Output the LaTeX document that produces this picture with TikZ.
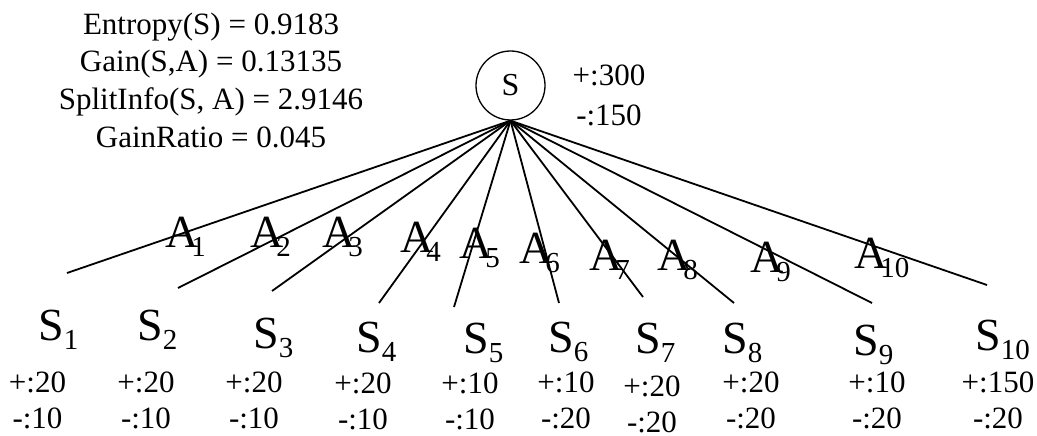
\documentclass[tikz,border=0pt]{standalone}
\usepackage{fontspec}
\setmainfont{Liberation Serif}
\usetikzlibrary{positioning}
% letter with lowered index, #3 = kern before the index
\newcommand{\subl}[3]{#1\kern#3pt\raisebox{-9pt}{\fontsize{29}{29}\selectfont #2}}
\tikzset{
  txt/.style={inner sep=0pt,font=\fontsize{31}{36}\selectfont},
  root/.style={circle,draw,line width=1.3pt,minimum size=69pt,inner sep=0pt,font=\fontsize{32}{36}\selectfont},
  br/.style={-,line width=1.8pt},
  big/.style={anchor=base west,inner sep=0pt,font=\fontsize{46}{46}\selectfont},
  cnt/.style={txt,anchor=base}
}
\begin{document}
\begin{tikzpicture}[x=1pt,y=-1pt]
  \useasboundingbox (0,0) rectangle (1037,436);
  \node[root] (S) at (510.5,85.5) {S};
  \node[cnt] (pos) at (609,85) {+:300};
  \node[cnt,below=40pt of pos.base,anchor=base] (neg) {-:150};
  % measures of the split
  \node[cnt] (ent) at (211,35) {Entropy(S) = 0.9183};
  \node[cnt] (gain) at (211,72) {Gain(S,A) = 0.13135};
  \node[cnt] (split) at (211,110) {SplitInfo(S, A) = 2.9146};
  \node[cnt] (ratio) at (211,147) {GainRatio = 0.045};
  % branches
  \foreach \i/\x/\y in {1/67/273,2/178/288,3/272/291,4/379/303,5/454/307,6/559/303,7/643/297,8/734/303,9/872/303,10/987/285}{
    \coordinate (e\i) at (\x,\y);
    \draw[br] (S.south) -- (e\i);
  }
  \foreach \i/\x/\y in {1/165/247,2/250/247,3/322/247,4/400/252,5/459/258,6/519/263,7/589/270,8/657/270,9/750/272,10/854/268}{
    \node[big] (a\i) at (\x,\y) {\subl{A}{\i}{-7}};
  }
  \foreach \i/\x/\y in {1/38/340,2/137/340,3/253/348,4/356/352,5/463/353,6/548/352,7/635/353,8/722/353,9/853/355,10/975/350}{
    \node[big] (s\i) at (\x,\y) {\subl{S}{\i}{0}};
  }
  \foreach \i/\x/\y in {1/37.5/392,2/146/392,3/254/392,4/363/393,5/470/393,6/566/392,7/652/396,8/751/392,9/877/392,10/998/392}{
    \coordinate (c\i) at (\x,\y);
  }
  \foreach \i/\p/\n in {1/20/10,2/20/10,3/20/10,4/20/10,5/10/10,6/10/20,7/20/20,8/20/20,9/10/20,10/150/20}{
    \node[cnt] (p\i) at (c\i) {+:\p};
    \node[cnt,below=36pt of p\i.base,anchor=base] (n\i) {-:\n};
  }
\end{tikzpicture}
\end{document}
